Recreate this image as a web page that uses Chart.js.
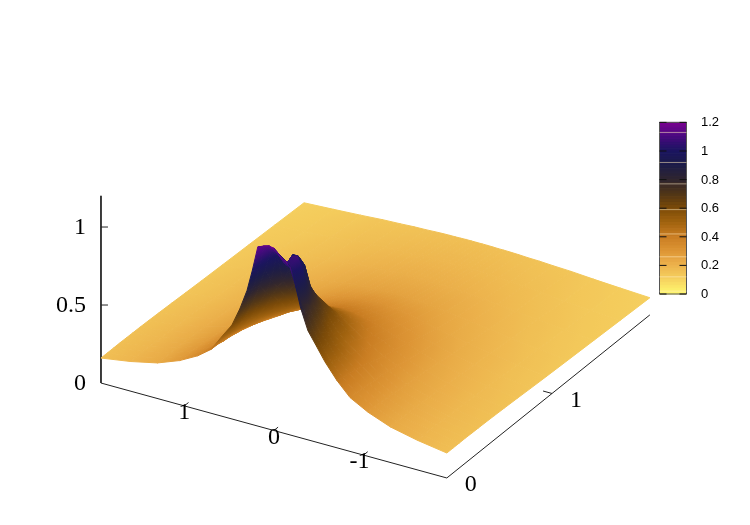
<!DOCTYPE html>
<html>
<head>
<meta charset="utf-8">
<style>
  html, body { margin: 0; padding: 0; background: #fff; }
  canvas { display: block; }
</style>
<script src="https://cdn.jsdelivr.net/npm/chart.js@4"></script>
</head>
<body>
<canvas id="surface" width="750" height="525"></canvas>
<script>
// grid of the surface
const xPos = [1.93, 1.6, 1.3, 1.05, .85, .7, .57, .47, .38, .3, .24, .18, .12, .06, 0];
const xNear = [-.06, -.12, -.18, -.24, -.3, -.38, -.47, -.57, -.7];
const yVals = [0, .06, .12, .18, .24, .3, .37, .45, .55, .67, .8, .95, 1.15, 1.4, 1.65, 1.93];

// height per y row, for x from 1.93 to 0
const zRows = [
  [.16, .19, .228, .283, .345, .41, .52, .6, .72, .85, .99, 1.148, 1.163, 1.173, 1.17],
  [.16, .19, .228, .283, .344, .41, .5, .59, .7, .83, .96, 1.12, 1.13, 1.115, 1.08],
  [.16, .19, .227, .28, .34, .4, .49, .58, .69, .81, .93, 1.05, 1.07, 1.04, 1],
  [.16, .188, .226, .278, .335, .395, .47, .555, .65, .74, .83, 1, .99, .97, 1.03],
  [.159, .186, .224, .273, .33, .385, .45, .525, .6, .69, .75, .8, .88, .88, .98],
  [.158, .185, .222, .268, .325, .375, .43, .49, .55, .62, .67, .71, .75, .78, .79],
  [.157, .183, .22, .262, .315, .36, .41, .455, .5, .545, .58, .62, .645, .665, .67],
  [.155, .18, .216, .255, .305, .345, .385, .42, .455, .49, .515, .535, .55, .56, .56],
  [.152, .177, .21, .247, .292, .33, .365, .39, .415, .44, .455, .47, .48, .485, .49],
  [.148, .173, .203, .237, .275, .305, .33, .35, .37, .385, .395, .4, .41, .412, .415],
  [.143, .165, .195, .225, .255, .28, .3, .315, .33, .34, .35, .355, .36, .362, .365],
  [.138, .16, .188, .21, .232, .25, .268, .28, .29, .297, .3, .305, .31, .31, .31],
  [.132, .152, .17, .195, .21, .222, .232, .24, .245, .248, .25, .252, .254, .255, .255],
  [.125, .14, .16, .17, .185, .195, .2, .205, .208, .21, .212, .213, .213, .213, .213],
  [.118, .13, .142, .158, .165, .17, .175, .178, .18, .182, .183, .184, .185, .185, .185],
  [.11, .12, .13, .14, .145, .15, .152, .155, .157, .158, .158, .159, .16, .16, .16]
];

// heights on the x<0 side close to the peak, first rows only
const zNear = [
  [1.13, 1.11, 1.08, .97, .83, .7, .62, .53, .434],
  [1.04, 1.03, .93, .81, .76, .66, .58, .5, .42],
  [1.06, 1.07, .99, .78, .7, .62, .56, .485, .41],
  [1.03, .95, .83, .73, .66, .59, .53, .47, .4],
  [.94, .82, .75, .68, .61, .55, .5, .45, .39],
  [.76, .72, .68, .62, .57, .52, .47, .43, .38]
];

const xTicks = [1, 0, -1];
const yTicks = [0, 1];
const zTicks = [0, .5, 1];
const cbTicks = [0, .2, .4, .6, .8, 1, 1.2];
const cbStreaks = [.02, .12, .26, .42, .59, .77, .92, 1.13];

const paletteAt = [0, .1, .2, .3, .4, .5, .6, .7, .8, .9, 1, 1.1, 1.2];
const paletteRgb = [
  [255, 248, 110], [246, 210, 96], [236, 178, 76], [221, 149, 53], [201, 125, 34], [160, 98, 15],
  [122, 74, 8], [79, 53, 24], [47, 37, 48], [28, 28, 72], [26, 20, 96], [74, 10, 128], [122, 0, 144]
];

function colorFor(z) {
  let i = 0;
  while (i < paletteAt.length - 2 && z > paletteAt[i + 1]) i++;
  const t = Math.min(1, Math.max(0, (z - paletteAt[i]) / (paletteAt[i + 1] - paletteAt[i])));
  const c = paletteRgb[i].map((v, k) => Math.round(v + (paletteRgb[i + 1][k] - v) * t));
  return 'rgb(' + c.join(',') + ')';
}

// gnuplot view flattened to the page
function project(x, y, z) {
  return {
    x: 273.9 - 89.6 * x + 105.2 * y,
    y: 430.5 - 24.6 * x - 84.5 * y - 156 * z
  };
}

const xGrid = xPos.concat(xPos.slice(0, -1).map(v => -v).reverse());

function heightAt(j, i) {
  const x = xGrid[i];
  if (x >= 0) return zRows[j][i];
  const near = xNear.indexOf(x);
  if (near >= 0 && j < zNear.length) return zNear[j][near];
  return zRows[j][xGrid.length - 1 - i];
}

// colour runs across a cell along the slope of its heights on the page
function cellPaint(q, chart) {
  if (q.paint) return q.paint;
  const p = q.pts, h = q.hs;
  const mid = (h[0] + h[1] + h[2] + h[3]) / 4;
  if (!chart.chartArea) return colorFor(mid);
  const sx = v => chart.scales.x.getPixelForValue(v);
  const sy = v => chart.scales.y.getPixelForValue(v);
  const ax = sx(p[2].x) - sx(p[0].x), ay = sy(p[2].y) - sy(p[0].y), az = h[2] - h[0];
  const bx = sx(p[3].x) - sx(p[1].x), by = sy(p[3].y) - sy(p[1].y), bz = h[3] - h[1];
  const det = ax * by - ay * bx;
  const spread = Math.max(...h.map(v => Math.abs(v - mid)));
  if (Math.abs(det) < 4 || spread < .0005) return (q.paint = colorFor(mid));
  const gx = (az * by - bz * ay) / det, gy = (ax * bz - bx * az) / det;
  const g2 = gx * gx + gy * gy;
  if (!(g2 > 1e-10)) return (q.paint = colorFor(mid));
  const cx = sx((p[0].x + p[1].x + p[2].x + p[3].x) / 4), cy = sy((p[0].y + p[1].y + p[2].y + p[3].y) / 4);
  const x0 = cx - spread * gx / g2, y0 = cy - spread * gy / g2;
  const x1 = cx + spread * gx / g2, y1 = cy + spread * gy / g2;
  if (![x0, y0, x1, y1].every(Number.isFinite)) return colorFor(mid);
  const grad = chart.ctx.createLinearGradient(x0, y0, x1, y1);
  for (let s = 0; s <= 6; s++) grad.addColorStop(s / 6, colorFor(mid + spread * (s / 3 - 1)));
  return (q.paint = grad);
}

const quads = [];
for (let j = 0; j < yVals.length - 1; j++) {
  for (let i = 0; i < xGrid.length - 1; i++) {
    const corners = [[i, j], [i + 1, j], [i + 1, j + 1], [i, j + 1]];
    const hs = corners.map(c => heightAt(c[1], c[0]));
    const pts = corners.map((c, k) => project(xGrid[c[0]], yVals[c[1]], hs[k]));
    pts.push(pts[0]);
    const mx = (xGrid[i] + xGrid[i + 1]) / 2;
    const my = (yVals[j] + yVals[j + 1]) / 2;
    quads.push({ depth: -24.6 * mx - 84.5 * my, hs: hs, pts: pts });
  }
}
// chart.js paints the first dataset last, so the nearest goes first
quads.sort((a, b) => b.depth - a.depth);

const datasets = quads.map(q => ({
  data: q.pts,
  showLine: true,
  fill: 'shape',
  backgroundColor: c => cellPaint(q, c.chart),
  borderColor: c => cellPaint(q, c.chart),
  pointBackgroundColor: '#000',
  pointBorderColor: '#000',
  borderWidth: 1,
  pointRadius: 0
}));

function lineSet(pts, color, width) {
  return { data: pts, showLine: true, fill: false, borderColor: color, borderWidth: width || 1, pointRadius: 0 };
}

// axes
const xMax = 1.93, yMax = 1.93, zMax = 1.2;
datasets.push(lineSet([project(xMax, 0, zMax), project(xMax, 0, 0), project(-xMax, 0, 0), project(-xMax, yMax, 0)], '#222'));
xTicks.forEach(t => datasets.push(lineSet([project(t, 0, 0), project(t, .04, 0)], '#222')));
yTicks.slice(1).forEach(t => datasets.push(lineSet([project(-xMax, t, 0), project(-xMax + .1, t, 0)], '#222')));
zTicks.slice(1).forEach(t => {
  const p = project(xMax, 0, t);
  datasets.push(lineSet([p, { x: p.x + 7, y: p.y }], '#222'));
});

// colour box
const cbLeft = 659.5, cbRight = 686.5, cbBottom = 294, cbPerUnit = 143;
const cbY = v => cbBottom - v * cbPerUnit;
for (let n = 0; n < 60; n++) {
  const lo = n * .02, hi = lo + .02, col = colorFor(lo + .01);
  datasets.push({
    data: [{ x: cbLeft, y: cbY(lo) }, { x: cbRight, y: cbY(lo) }, { x: cbRight, y: cbY(hi) }, { x: cbLeft, y: cbY(hi) }, { x: cbLeft, y: cbY(lo) }],
    showLine: true, fill: 'shape', backgroundColor: col, borderColor: col, borderWidth: 1, pointRadius: 0
  });
}
const cbLines = [];
cbStreaks.forEach(v => cbLines.push(lineSet([{ x: cbLeft, y: cbY(v) }, { x: cbRight, y: cbY(v) }], 'rgba(255,235,190,0.55)')));
cbTicks.forEach(v => {
  cbLines.push(lineSet([{ x: cbLeft, y: cbY(v) }, { x: cbLeft + 7, y: cbY(v) }], '#111'));
  cbLines.push(lineSet([{ x: cbRight - 7, y: cbY(v) }, { x: cbRight, y: cbY(v) }], '#111'));
});
cbLines.push(lineSet([{ x: cbLeft, y: cbY(0) }, { x: cbRight, y: cbY(0) }, { x: cbRight, y: cbY(1.2) }, { x: cbLeft, y: cbY(1.2) }, { x: cbLeft, y: cbY(0) }], '#555'));
// put them in front of the box cells
datasets.unshift(...cbLines);

const tickText = {
  id: 'tickText',
  afterDraw(chart) {
    const c = chart.ctx, sx = chart.scales.x, sy = chart.scales.y;
    const put = (txt, x, y, align) => {
      c.textAlign = align;
      c.fillText(txt, sx.getPixelForValue(x), sy.getPixelForValue(y));
    };
    c.save();
    c.fillStyle = '#000';
    c.textBaseline = 'middle';
    c.font = '24px "Liberation Serif"';
    zTicks.forEach(t => {
      const p = project(xMax, 0, t);
      put(String(t), p.x - 15, p.y + 1, 'right');
    });
    xTicks.forEach(t => {
      const p = project(t, 0, 0);
      put(String(t), t < 0 ? p.x - 4 : p.x, p.y + 7, 'center');
    });
    yTicks.forEach(t => {
      const p = project(-xMax, t, 0);
      put(String(t), p.x + 24, p.y + 7, 'center');
    });
    c.font = '13px "Liberation Sans"';
    cbTicks.forEach(t => put(String(t), 701, cbY(t) + .5, 'left'));
    c.restore();
  }
};

new Chart(document.getElementById('surface'), {
  type: 'scatter',
  data: { datasets: datasets },
  options: {
    responsive: false,
    animation: false,
    events: [],
    layout: { padding: 0 },
    plugins: { legend: { display: false }, tooltip: { enabled: false } },
    scales: {
      x: { type: 'linear', min: 0, max: 750, display: false },
      y: { type: 'linear', min: 0, max: 525, reverse: true, display: false }
    }
  },
  plugins: [tickText]
});
</script>
</body>
</html>
